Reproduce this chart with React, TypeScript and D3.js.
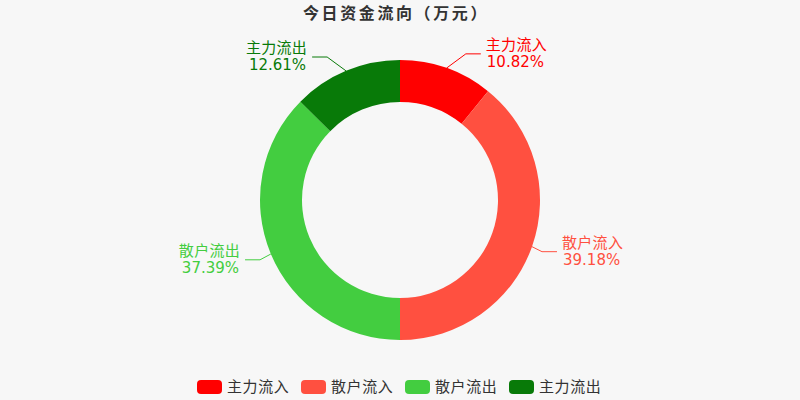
import { useEffect, useRef } from 'react';
import * as d3 from 'd3';

const title = '今日资金流向（万元）';
const categories = ['主力流入', '散户流入', '散户流出', '主力流出'];
const shares = [10.82, 39.18, 37.39, 12.61];
const palette = ['#ff0000', '#ff5040', '#43cd40', '#087a08'];

const App = () => {
  const svgRef = useRef<SVGSVGElement | null>(null);

  const width = 800;
  const height = 400;
  const cx = 400;
  const cy = 200;
  const outerR = 140;
  const innerR = 98;
  const len1 = 15;
  const len2 = 15;

  useEffect(() => {
    const svgElement = svgRef.current;
    if (!svgElement) return;

    const svg = d3.select(svgElement);
    svg.selectAll('*').remove();

    const color = d3.scaleOrdinal<string, string>().domain(categories).range(palette);
    const font = '"DejaVu Sans", "Noto Sans CJK SC", sans-serif';

    svg.append('rect')
      .attr('width', width)
      .attr('height', height)
      .attr('fill', '#f7f7f7');

    svg.append('text')
      .attr('x', cx - 4)
      .attr('y', 19)
      .attr('text-anchor', 'middle')
      .attr('font-family', '"Noto Sans CJK SC", sans-serif')
      .attr('font-weight', 'bold')
      .attr('font-size', 16)
      .attr('letter-spacing', 2.6)
      .attr('fill', '#333')
      .text(title);

    const data = categories.map((name, i) => ({ name, value: shares[i] }));

    const pie = d3.pie<{ name: string, value: number }>()
      .sort(null)
      .value(d => d.value);

    const arcs = pie(data);

    const arc = d3.arc<d3.PieArcDatum<{ name: string, value: number }>>()
      .innerRadius(innerR)
      .outerRadius(outerR);

    const g = svg.append('g').attr('transform', `translate(${cx},${cy})`);

    g.selectAll('path')
      .data(arcs)
      .join('path')
      .attr('d', arc)
      .attr('fill', d => color(d.data.name));

    // label lines + two-row labels
    arcs.forEach(d => {
      const mid = (d.startAngle + d.endAngle) / 2;
      const sin = Math.sin(mid);
      const cos = Math.cos(mid);
      const dir = sin >= 0 ? 1 : -1;
      const sx = cx + outerR * sin;
      const sy = cy - outerR * cos;
      const ey = cy - (outerR + len1) * cos;
      const ex = sx + dir * (Math.abs(ey - sy) + 5);
      const lx = ex + dir * len2;
      const c = color(d.data.name);

      svg.append('polyline')
        .attr('points', `${sx},${sy} ${ex},${ey} ${lx},${ey}`)
        .attr('fill', 'none')
        .attr('stroke', c)
        .attr('stroke-width', 1);

      const t = svg.append('text')
        .attr('font-family', font)
        .attr('font-size', 15)
        .attr('fill', c)
        .attr('text-anchor', dir > 0 ? 'start' : 'end');

      t.append('tspan')
        .attr('x', lx + dir * 5)
        .attr('y', ey - 4)
        .attr('letter-spacing', 0.3)
        .text(d.data.name);

      t.append('tspan')
        .attr('x', lx + dir * 6)
        .attr('y', ey + 13)
        .text(`${d.data.value.toFixed(2)}%`);
    });

    // legend
    const legend = svg.append('g')
      .selectAll('g')
      .data(categories)
      .join('g')
      .attr('transform', (_d, i) => `translate(${197 + i * 104},380)`);

    legend.append('rect')
      .attr('width', 25)
      .attr('height', 14)
      .attr('rx', 4)
      .attr('fill', d => color(d));

    legend.append('text')
      .attr('x', 30)
      .attr('y', 12)
      .attr('font-family', font)
      .attr('font-size', 15)
      .attr('letter-spacing', 0.6)
      .attr('fill', '#333')
      .text(d => d);
  }, []);

  return (
    <svg
      ref={svgRef}
      width={width}
      height={height}
      style={{ position: 'absolute', left: 0, top: 0, display: 'block' }}
    />
  );
};

export default App;
